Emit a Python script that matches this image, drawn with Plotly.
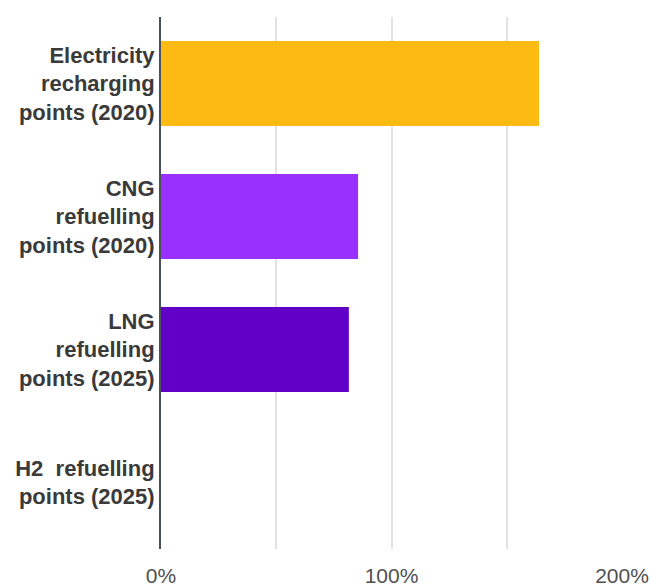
import plotly.graph_objects as go

categories = [
    "Electricity<br>recharging<br>points (2020)",
    "CNG<br>refuelling<br>points (2020)",
    "LNG<br>refuelling<br>points (2025)",
    "H2  refuelling<br>points (2025)",
]
values = [164, 85.5, 81.5, 0]
colors = ["#FCBA12", "#9A30FE", "#6100C6", "#3A0080"]
tick_vals = [0, 100, 200]
tick_text = ["0%", "100%", "200%"]

fig = go.Figure(go.Bar(
    x=values, y=categories, orientation="h",
    marker=dict(color=colors, line=dict(width=0)),
    width=0.64,
))

fig.update_layout(
    width=651, height=588,
    margin=dict(l=161, r=29, t=17, b=39),
    paper_bgcolor="white", plot_bgcolor="white",
    showlegend=False,
    font=dict(family="Liberation Sans, Arial, sans-serif", size=22, color="#444"),
)
fig.update_yaxes(
    autorange="reversed", automargin=False,
    showline=True, linecolor="#4a5058", linewidth=2,
    ticks="", ticklabelstandoff=0,
    tickfont=dict(family="Liberation Sans, Arial, sans-serif", size=22, color="#3a3a3a", weight="bold"),
    showgrid=False,
)
fig.update_xaxes(
    range=[0, 200], automargin=False,
    tickvals=tick_vals, ticktext=tick_text,
    showgrid=False, zeroline=False,
    ticks="", ticklabelstandoff=12,
    tickfont=dict(size=21, color="#505050"),
    minor=dict(dtick=50, showgrid=True, gridcolor="#e2e2e2", gridwidth=1.5),
)

fig.write_html(
    "out.html",
    config={"displayModeBar": False},
    post_script="document.body.style.margin='0';document.body.style.overflow='hidden';",
)
